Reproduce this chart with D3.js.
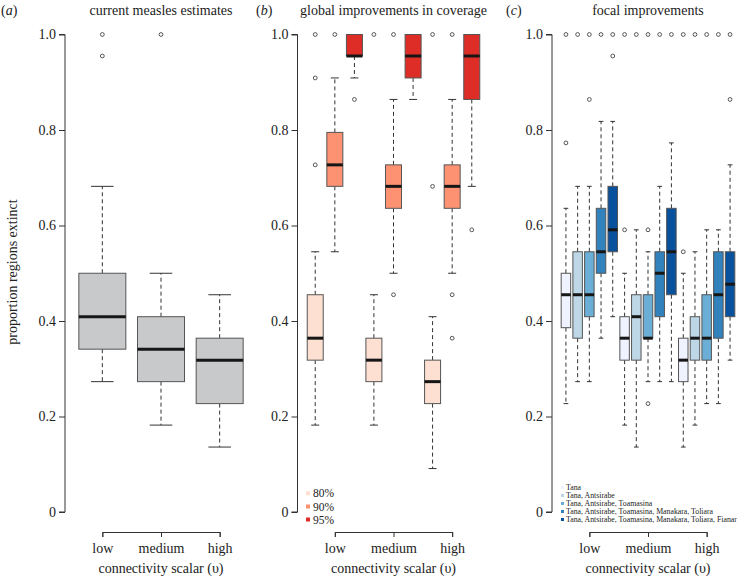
<!DOCTYPE html>
<html><head><meta charset="utf-8">
<script src="https://cdn.jsdelivr.net/npm/d3@7"></script>
<style>body{margin:0;background:#fff}svg{display:block}text{font-family:"Liberation Serif","Times New Roman",serif;fill:#222}</style>
</head><body>
<script>
const categories = ["low", "medium", "high"];
const yTickValues = [0, 0.2, 0.4, 0.6, 0.8, 1.0];
const yTickLabels = ["0", "0.2", "0.4", "0.6", "0.8", "1.0"];
const panelTitles = ["current measles estimates", "global improvements in coverage", "focal improvements"];
const panelLetters = ["a", "b", "c"];
const xTitle = "connectivity scalar (\u03c5)";
const yTitle = "proportion regions extinct";

// stats: [lower whisker, Q1, median, Q3, upper whisker]
const currentStats = [[0.273,0.341,0.409,0.5,0.682],[0.182,0.273,0.341,0.409,0.5],[0.136,0.227,0.318,0.364,0.455]];
const currentOutliers = [[1.0,0.955],[1.0],[]];

const coverageLevels = ["80%", "90%", "95%"];
const coverageColors = ["#fee0d2", "#fc9272", "#de2d26"];
const coverageStats = [
  [[0.182,0.318,0.364,0.455,0.545],[0.545,0.682,0.727,0.795,0.909],[0.909,0.955,0.955,1.0,1.0]],
  [[0.182,0.273,0.318,0.364,0.455],[0.5,0.636,0.682,0.727,0.864],[0.864,0.909,0.955,1.0,1.0]],
  [[0.091,0.227,0.273,0.318,0.409],[0.5,0.636,0.682,0.727,0.864],[0.682,0.864,0.955,1.0,1.0]]
];
const coverageOutliers = [
  [[1.0,0.909,0.727],[1.0],[0.864]],
  [[1.0],[1.0,0.455],[]],
  [[1.0,0.682],[1.0,0.455,0.364],[0.591]]
];

const focalScenarios = ["Tana", "Tana, Antsirabe", "Tana, Antsirabe, Toamasina", "Tana, Antsirabe, Toamasina, Manakara, Toliara", "Tana, Antsirabe, Toamasina, Manakara, Toliara, Fianar"];
const focalColors = ["#eff3ff", "#bdd7e7", "#6baed6", "#3182bd", "#08519c"];
const focalStats = [
  [[0.227,0.386,0.455,0.5,0.636],[0.273,0.364,0.455,0.545,0.682],[0.273,0.409,0.455,0.545,0.682],[0.364,0.5,0.545,0.636,0.818],[0.409,0.545,0.591,0.682,0.818]],
  [[0.182,0.318,0.364,0.409,0.5],[0.136,0.318,0.409,0.455,0.591],[0.273,0.364,0.364,0.455,0.545],[0.273,0.409,0.5,0.545,0.682],[0.273,0.455,0.545,0.636,0.773]],
  [[0.136,0.273,0.318,0.364,0.5],[0.182,0.318,0.364,0.409,0.545],[0.227,0.318,0.364,0.455,0.591],[0.227,0.364,0.455,0.545,0.591],[0.318,0.409,0.477,0.545,0.727]]
];
const focalOutliers = [
  [[1.0,0.773],[1.0],[1.0,0.864],[1.0],[1.0,0.955]],
  [[1.0,0.591],[1.0],[1.0,0.591,0.227],[1.0],[1.0]],
  [[1.0,0.545],[1.0],[1.0],[1.0],[1.0,0.864]]
];

const W = 748, H = 579;
const svg = d3.select("body").append("svg").attr("width", W).attr("height", H);
const y = d3.scaleLinear().domain([0, 1]).range([512, 34.5]);
const axisXs = [65, 297.5, 552];
const xAxisY = 532;

function drawBox(g, cx, w, s, outs, fill, capFrac) {
  const [lw, q1, med, q3, uw] = s;
  const cw = w * capFrac;
  g.append("line").attr("x1", cx).attr("x2", cx).attr("y1", y(q3)).attr("y2", y(uw))
    .attr("stroke", "#333").attr("stroke-dasharray", "4,3");
  g.append("line").attr("x1", cx).attr("x2", cx).attr("y1", y(q1)).attr("y2", y(lw))
    .attr("stroke", "#333").attr("stroke-dasharray", "4,3");
  g.append("line").attr("x1", cx - cw).attr("x2", cx + cw).attr("y1", y(uw)).attr("y2", y(uw)).attr("stroke", "#333");
  g.append("line").attr("x1", cx - cw).attr("x2", cx + cw).attr("y1", y(lw)).attr("y2", y(lw)).attr("stroke", "#333");
  g.append("rect").attr("x", cx - w / 2).attr("width", w).attr("y", y(q3)).attr("height", Math.max(0.5, y(q1) - y(q3)))
    .attr("fill", fill).attr("stroke", "#555").attr("stroke-width", 1);
  g.append("line").attr("x1", cx - w / 2).attr("x2", cx + w / 2).attr("y1", y(med)).attr("y2", y(med))
    .attr("stroke", "#161616").attr("stroke-width", 3);
  outs.forEach(o => g.append("circle").attr("cx", cx).attr("cy", y(o)).attr("r", 1.9)
    .attr("fill", "none").attr("stroke", "#444").attr("stroke-width", 0.9));
}

const panels = [];
axisXs.forEach((ax, pi) => {
  const g = svg.append("g");
  const x = d3.scaleBand().domain(categories).range([ax + 8, ax + 184]);
  panels.push({g, x});
  // y axis
  const yAxis = d3.axisLeft(y).tickValues(yTickValues).tickFormat((d, i) => yTickLabels[i]).tickSize(6).tickPadding(3);
  const ya = g.append("g").attr("transform", `translate(${ax},0)`).call(yAxis);
  ya.select(".domain").attr("d", `M-6,${y(1)}H0V${y(0)}H-6`).attr("stroke", "#333");
  ya.selectAll(".tick line").attr("stroke", "#333");
  ya.selectAll(".tick text").style("font-family", "Liberation Serif").style("font-size", "14px").attr("fill", "#222");
  // x axis
  const xAxis = d3.axisBottom(d3.scalePoint().domain(categories).range([x("low") + x.bandwidth() / 2, x("high") + x.bandwidth() / 2]))
    .tickSize(5).tickPadding(6);
  const xa = g.append("g").attr("transform", `translate(0,${xAxisY})`).call(xAxis);
  xa.select(".domain").attr("stroke", "#333");
  xa.selectAll(".tick line").attr("stroke", "#333");
  xa.selectAll(".tick text").style("font-family", "Liberation Serif").style("font-size", "14px").attr("fill", "#222");
  const cMid = x("medium") + x.bandwidth() / 2;
  g.append("text").attr("x", cMid).attr("y", 573).attr("text-anchor", "middle").style("font-size", "14px").text(xTitle);
  // title
  g.append("text").attr("x", cMid).attr("y", 15).attr("text-anchor", "middle").style("font-size", "14px").text(panelTitles[pi]);
  const lt = g.append("text").attr("x", [1, 256, 506][pi]).attr("y", 15).style("font-size", "14px");
  lt.append("tspan").text("(");
  lt.append("tspan").style("font-style", "italic").text(panelLetters[pi]);
  lt.append("tspan").text(")");
});

svg.append("text").attr("transform", `translate(17,272) rotate(-90)`).attr("text-anchor", "middle")
  .style("font-size", "14px").text(yTitle);

// panel a
{
  const {g, x} = panels[0];
  categories.forEach((c, i) => {
    drawBox(g, x(c) + x.bandwidth() / 2, 47, currentStats[i], currentOutliers[i], "#c8c9cb", 0.24);
  });
}
// panel b
{
  const {g, x} = panels[1];
  const inner = d3.scaleBand().domain(coverageLevels).range([-29.4, 29.4]);
  categories.forEach((c, i) => {
    coverageLevels.forEach((l, j) => {
      const cx = x(c) + x.bandwidth() / 2 + inner(l) + inner.bandwidth() / 2;
      drawBox(g, cx, 16, coverageStats[i][j], coverageOutliers[i][j], coverageColors[j], 0.25);
    });
  });
  const leg = g.append("g");
  coverageLevels.forEach((l, j) => {
    const ly = [493.3, 506.5, 519.5][j];
    leg.append("rect").attr("x", 306).attr("y", ly - 2).attr("width", 4).attr("height", 4).attr("fill", coverageColors[j]);
    leg.append("text").attr("x", 313).attr("y", ly + 4).style("font-size", "11.5px").text(l);
  });
}
// panel c
{
  const {g, x} = panels[2];
  const inner = d3.scaleBand().domain(focalScenarios).range([-29.25, 29.25]);
  categories.forEach((c, i) => {
    focalScenarios.forEach((s, j) => {
      const cx = x(c) + x.bandwidth() / 2 + inner(s) + inner.bandwidth() / 2;
      drawBox(g, cx, 9.5, focalStats[i][j], focalOutliers[i][j], focalColors[j], 0.25);
    });
  });
  const leg = g.append("g");
  focalScenarios.forEach((s, j) => {
    const ly = 487.5 + j * 8;
    leg.append("rect").attr("x", 561).attr("y", ly - 1.5).attr("width", 3).attr("height", 3).attr("fill", focalColors[j]);
    leg.append("text").attr("x", 566).attr("y", ly + 2.7).style("font-size", "7.8px").text(s);
  });
}
</script>
</body></html>
